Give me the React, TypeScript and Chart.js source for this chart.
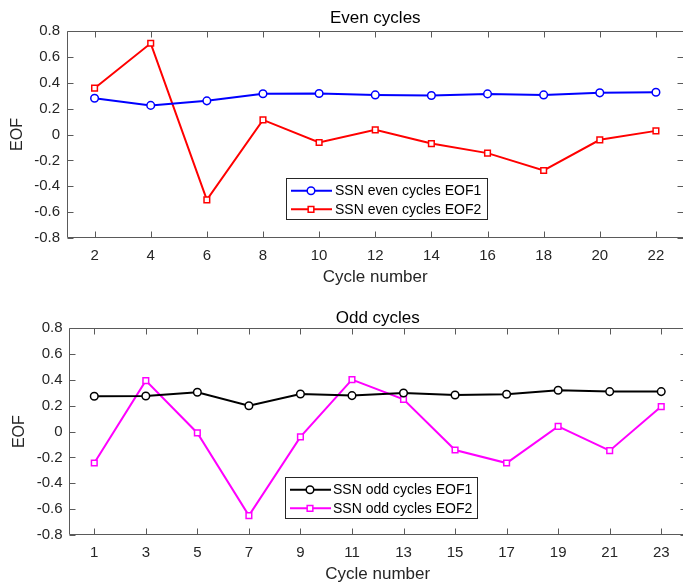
import React, { useEffect, useRef } from 'react';
import { Chart, registerables } from 'chart.js';

Chart.register(...registerables);

// ---------- data ----------
const evenCycles = [2, 4, 6, 8, 10, 12, 14, 16, 18, 20, 22];
const evenEOF1 = [0.28, 0.225, 0.26, 0.315, 0.317, 0.306, 0.301, 0.314, 0.306, 0.322, 0.327];
const evenEOF2 = [0.358, 0.705, -0.505, 0.113, -0.062, 0.036, -0.07, -0.144, -0.278, -0.041, 0.028];

const oddCycles = [1, 3, 5, 7, 9, 11, 13, 15, 17, 19, 21, 23];
const oddEOF1 = [0.274, 0.276, 0.305, 0.201, 0.292, 0.279, 0.299, 0.284, 0.289, 0.32, 0.31, 0.31];
const oddEOF2 = [-0.243, 0.395, -0.01, -0.65, -0.041, 0.403, 0.25, -0.142, -0.243, 0.041, -0.147, 0.194];

const yTicks = [-0.8, -0.6, -0.4, -0.2, 0, 0.2, 0.4, 0.6, 0.8];
const evenLabels = ['SSN even cycles EOF1', 'SSN even cycles EOF2'];
const oddLabels = ['SSN odd cycles EOF1', 'SSN odd cycles EOF2'];
const evenColors = ['#0000ff', '#ff0000'];
const oddColors = ['#000000', '#ff00ff'];
const xAxisTitle = 'Cycle number';
const yAxisTitle = 'EOF';

// ---------- styling / layout ----------
const FONT = "'Liberation Sans', Arial, Helvetica, sans-serif";
const CANVAS_W = 700;

type Panel = {
  top: number;
  height: number;
  plotLeft: number;
  plotRight: number;
  plotTop: number;
  plotBottom: number;
  xMin: number;
  xMax: number;
  title: string;
  titleCenter: number;
  yTitleCenter: number;
  yTickGap: number;
  xTickCenter: number;
  xTitleCenter: number;
  legendX: number;
  legendY: number;
  legendTextOffset: number;
  legendRightPad: number;
  cycles: number[];
  eof1: number[];
  eof2: number[];
  labels: string[];
  colors: string[];
};

function EofPanel({ p }: { p: Panel }) {
  const ref = useRef<HTMLCanvasElement>(null);

  useEffect(() => {
    const canvas = ref.current!;
    const H = p.height;

    const titleFontSize = 17;
    const titlePadTop = p.titleCenter - titleFontSize / 2;
    const titlePadBottom = p.plotTop - titleFontSize - titlePadTop;

    const tickFontSize = 15;
    const tickLH = tickFontSize * 1.2;

    const framePlugin = {
      id: 'frameTicksLegend',
      afterDraw(chart: any) {
        const { ctx, chartArea: a, scales } = chart;
        const xs = scales.x;
        const ys = scales.y;
        const tl = 6;
        ctx.save();
        ctx.strokeStyle = '#5a5a5a';
        ctx.lineWidth = 1;
        const L = Math.round(a.left) + 0.5;
        const R = Math.round(a.right) - 0.5;
        const T = Math.round(a.top) + 0.5;
        const B = Math.round(a.bottom) - 0.5;
        ctx.beginPath();
        ctx.rect(L, T, R - L, B - T);
        for (const t of xs.ticks) {
          const px = Math.round(xs.getPixelForValue(t.value)) + 0.5;
          ctx.moveTo(px, B);
          ctx.lineTo(px, B - tl);
          ctx.moveTo(px, T);
          ctx.lineTo(px, T + tl);
        }
        for (const t of ys.ticks) {
          const py = Math.round(ys.getPixelForValue(t.value)) + 0.5;
          ctx.moveTo(L, py);
          ctx.lineTo(L + tl, py);
          ctx.moveTo(R, py);
          ctx.lineTo(R - tl, py);
        }
        ctx.stroke();

        // legend
        const ds = chart.data.datasets;
        ctx.font = `14px ${FONT}`;
        let maxW = 0;
        for (const d of ds) maxW = Math.max(maxW, ctx.measureText(d.label).width);
        const bx = p.legendX;
        const by = p.legendY;
        const bw = p.legendTextOffset + maxW + p.legendRightPad;
        const bh = 41;
        ctx.fillStyle = '#ffffff';
        ctx.fillRect(bx, by, bw, bh);
        ctx.strokeStyle = '#262626';
        ctx.lineWidth = 1;
        ctx.strokeRect(Math.round(bx) + 0.5, Math.round(by) + 0.5, Math.round(bw), Math.round(bh));
        const rows = [by + 12.5, by + 31];
        ds.forEach((d: any, i: number) => {
          const ry = rows[i];
          ctx.strokeStyle = d.borderColor;
          ctx.lineWidth = 2;
          ctx.beginPath();
          ctx.moveTo(bx + 5, ry);
          ctx.lineTo(bx + 46, ry);
          ctx.stroke();
          const mx = bx + 25;
          ctx.lineWidth = d.pointBorderWidth;
          ctx.fillStyle = '#ffffff';
          ctx.beginPath();
          if (d.pointStyle === 'rect') {
            const s = d.pointRadius * Math.SQRT1_2;
            ctx.rect(mx - s, ry - s, 2 * s, 2 * s);
          } else {
            ctx.arc(mx, ry, d.pointRadius, 0, Math.PI * 2);
          }
          ctx.fill();
          ctx.stroke();
          ctx.fillStyle = '#000000';
          ctx.textAlign = 'left';
          ctx.textBaseline = 'middle';
          ctx.fillText(d.label, bx + p.legendTextOffset, ry + 0.5);
        });
        ctx.restore();
      },
    };

    const mkDs = (vals: number[], label: string, color: string, style: string) => ({
      label,
      data: p.cycles.map((c, i) => ({ x: c, y: vals[i] })),
      borderColor: color,
      backgroundColor: color,
      borderWidth: 2,
      tension: 0,
      pointStyle: style,
      pointRadius: style === 'rect' ? 4 : 3.8,
      pointBorderWidth: 1.5,
      pointBackgroundColor: '#ffffff',
      pointBorderColor: color,
      pointHoverRadius: 4,
    });

    const chart = new Chart(canvas, {
      type: 'line',
      data: {
        datasets: [
          mkDs(p.eof1, p.labels[0], p.colors[0], 'circle'),
          mkDs(p.eof2, p.labels[1], p.colors[1], 'rect'),
        ],
      },
      options: {
        responsive: false,
        animation: false,
        devicePixelRatio: 1,
        events: [],
        layout: { padding: { left: 0, right: CANVAS_W - p.plotRight, top: 0, bottom: 0 } },
        plugins: {
          legend: { display: false },
          tooltip: { enabled: false },
          title: {
            display: true,
            text: p.title,
            fullSize: false,
            color: '#000000',
            font: { family: FONT, size: titleFontSize, weight: 'normal', lineHeight: 1 },
            padding: { top: titlePadTop, bottom: titlePadBottom },
          },
        },
        scales: {
          x: {
            type: 'linear',
            position: 'bottom',
            min: p.xMin,
            max: p.xMax,
            grid: { display: false, drawTicks: false },
            border: { display: false },
            ticks: {
              padding: p.xTickCenter - tickLH / 2,
              color: '#262626',
              font: { family: FONT, size: tickFontSize, lineHeight: 1.2 },
              maxRotation: 0,
              autoSkip: false,
              callback: (v: any) => String(v),
            },
            title: {
              display: true,
              text: xAxisTitle,
              color: '#262626',
              font: { family: FONT, size: 17, lineHeight: 1 },
              padding: { top: 0, bottom: H - p.xTitleCenter - 8.5 },
            },
            afterBuildTicks: (s: any) => {
              s.ticks = p.cycles.map((v) => ({ value: v }));
            },
            afterFit: (s: any) => {
              s.height = H - p.plotBottom;
            },
          },
          y: {
            type: 'linear',
            position: 'left',
            min: -0.8,
            max: 0.8,
            grid: { display: false, drawTicks: false },
            border: { display: false },
            ticks: {
              padding: p.yTickGap,
              color: '#262626',
              font: { family: FONT, size: tickFontSize },
              callback: (v: any) => (Math.abs(v) < 1e-9 ? '0' : Number(v).toFixed(1)),
            },
            title: {
              display: true,
              text: yAxisTitle,
              color: '#262626',
              font: { family: FONT, size: 16, lineHeight: 1 },
              padding: { top: p.yTitleCenter - 8, bottom: 0 },
            },
            afterBuildTicks: (s: any) => {
              s.ticks = yTicks.map((v) => ({ value: v }));
            },
            afterFit: (s: any) => {
              s.width = p.plotLeft;
            },
          },
        },
      } as any,
      plugins: [framePlugin],
    });
    return () => chart.destroy();
  }, [p]);

  return (
    <canvas
      ref={ref}
      width={CANVAS_W}
      height={p.height}
      style={{ position: 'absolute', left: 0, top: p.top, width: CANVAS_W, height: p.height }}
    />
  );
}

const evenPanel: Panel = {
  top: 0,
  height: 290,
  plotLeft: 66.5,
  plotRight: 684,
  plotTop: 31,
  plotBottom: 238,
  xMin: 1,
  xMax: 23,
  title: 'Even cycles',
  titleCenter: 18.5,
  yTitleCenter: 17.5,
  yTickGap: 6.5,
  xTickCenter: 17.8,
  xTitleCenter: 277.5,
  legendX: 286,
  legendY: 178.3,
  legendTextOffset: 49,
  legendRightPad: 6,
  cycles: evenCycles,
  eof1: evenEOF1,
  eof2: evenEOF2,
  labels: evenLabels,
  colors: evenColors,
};

const oddPanel: Panel = {
  top: 290,
  height: 300,
  plotLeft: 68.5,
  plotRight: 687,
  plotTop: 38.3,
  plotBottom: 245,
  xMin: 0,
  xMax: 24,
  title: 'Odd cycles',
  titleCenter: 28.8,
  yTitleCenter: 20,
  yTickGap: 6,
  xTickCenter: 17.5,
  xTitleCenter: 284.2,
  legendX: 285,
  legendY: 187.3,
  legendTextOffset: 48,
  legendRightPad: 5,
  cycles: oddCycles,
  eof1: oddEOF1,
  eof2: oddEOF2,
  labels: oddLabels,
  colors: oddColors,
};

export default function App() {
  return (
    <div
      style={{
        position: 'absolute',
        left: 0,
        top: 0,
        width: 683,
        height: 582,
        overflow: 'hidden',
        background: '#ffffff',
      }}
    >
      <EofPanel p={evenPanel} />
      <EofPanel p={oddPanel} />
    </div>
  );
}
